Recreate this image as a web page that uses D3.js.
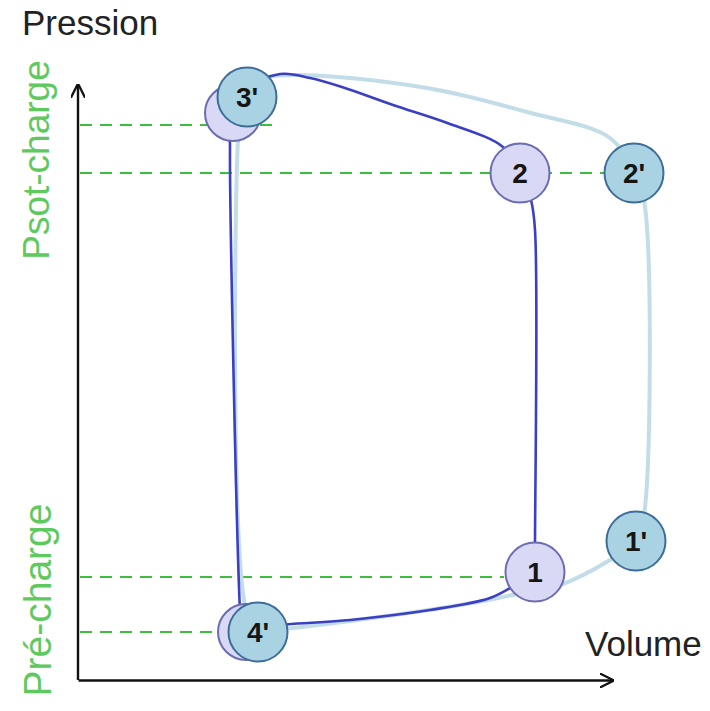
<!DOCTYPE html>
<html lang="en">
<head>
<meta charset="utf-8">
<title>Boucle pression-volume</title>
<script src="https://cdn.jsdelivr.net/npm/d3@7"></script>
<style>
  body { margin: 0; background: #fff; }
  text { font-family: "Liberation Sans", Arial, sans-serif; }
</style>
</head>
<body>
<div id="chart"></div>
<script>
// volume (mL, fictif) / pression (mmHg, fictif)
const axisTitles = { x: "Volume", y: "Pression" };
const sideLabels = [
  { text: "Psot-charge", p: 104, size: 37, base: 49 },
  { text: "Pré-charge", p: 16, size: 39, base: 51 }
];

// horizontal dashed reference lines: pressure level, end volume
const refP = [111, 101.4, 20.6, 9.6];
const refEndV = [48.5, 133, 106.5, 36.5];

// normal loop (dark): 4' -> 1 -> 2 -> 3' -> 4'
const loopNormal = [
  [41, 9.6], [48, 10.8], [68, 12], [88, 14], [103, 16.4], [109.25, 19], [114.25, 21.6],
  [114.25, 27], [114.25, 90], [113.25, 96], [110.5, 101.4],
  [106.25, 106.6], [92, 111.5], [78.75, 115], [66, 118.6], [58, 120.4], [50.5, 121.2],
  [42, 118], [38.2, 110], [38, 106], [40.5, 14], [41, 9.6]
];
// loop after change (light): 4' -> 1 -> 1' -> 2' -> 3' -> 4'
const loopAfter = [
  [45, 9.6], [70, 12], [100, 15.6], [114.25, 18], [120.5, 19], [133, 24], [139.5, 27.8],
  [141.5, 33], [141.5, 96], [139, 101.4],
  [133, 108.4], [112.25, 113.6], [87.25, 118.4], [53.75, 121], [46, 120],
  [41, 114], [40, 108], [42, 14], [45, 9.6]
];

// circles: label, volume, pressure, kind (n = normal, a = after)
const backCircles = [
  { v: 38.75, p: 113.4, kind: "n" },
  { v: 42, p: 9.6, kind: "n" }
];
const nodes = [
  { label: "3'", v: 42.25, p: 116.6, kind: "a" },
  { label: "2", v: 110.5, p: 101.4, kind: "n" },
  { label: "2'", v: 139, p: 101.4, kind: "a" },
  { label: "1", v: 114.25, p: 21.6, kind: "n" },
  { label: "1'", v: 139.5, p: 27.8, kind: "a" },
  { label: "4'", v: 45, p: 9.6, kind: "a" }
];

const w = 710, h = 711;

const x = d3.scaleLinear().domain([0, 133.5]).range([78, 612]);
const y = d3.scaleLinear().domain([0, 119]).range([680, 85]);

const svg = d3.select("#chart").append("svg")
  .attr("width", w).attr("height", h);

const defs = svg.append("defs");
defs.append("marker")
  .attr("id", "arrow")
  .attr("viewBox", "0 0 10 10")
  .attr("refX", 9).attr("refY", 5)
  .attr("markerWidth", 6).attr("markerHeight", 6)
  .attr("markerUnits", "strokeWidth")
  .attr("orient", "auto")
  .append("path")
  .attr("d", "M0,0 L10,5 L0,10")
  .attr("fill", "none")
  .attr("stroke", "#111")
  .attr("stroke-width", 1.6);

// dashed reference lines
svg.selectAll(".ref").data(refP).enter().append("line")
  .attr("class", "ref")
  .attr("x1", x(0.5)).attr("x2", (d, i) => x(refEndV[i]))
  .attr("y1", d => y(d)).attr("y2", d => y(d))
  .attr("stroke", "#3cbf3c")
  .attr("stroke-width", 2)
  .attr("stroke-dasharray", "12 8");

// axes (domain line only, arrow at the end)
const xAxis = svg.append("g")
  .attr("transform", "translate(0," + y(0) + ")")
  .call(d3.axisBottom(x).tickValues([]).tickSizeOuter(0));
const yAxis = svg.append("g")
  .attr("transform", "translate(" + x(0) + ",0)")
  .call(d3.axisLeft(y).tickValues([]).tickSizeOuter(0));
[xAxis, yAxis].forEach(g => g.select(".domain")
  .attr("stroke", "#111")
  .attr("stroke-width", 2.4)
  .attr("marker-end", "url(#arrow)"));
yAxis.select(".domain").attr("d", "M0," + y(0) + "V" + y(119));

const line = d3.line()
  .x(d => x(d[0])).y(d => y(d[1]))
  .curve(d3.curveCatmullRom.alpha(0.5));

svg.append("path").datum(loopAfter)
  .attr("d", line)
  .attr("fill", "none")
  .attr("stroke", "#c2dde8")
  .attr("stroke-width", 4);

svg.append("path").datum(loopNormal)
  .attr("d", line)
  .attr("fill", "none")
  .attr("stroke", "#3a3fc6")
  .attr("stroke-width", 2.6);

const fill = { n: "#d9d8f5", a: "#a9d3e2" };
const stroke = { n: "#6c6cb2", a: "#3f6d9a" };

svg.selectAll(".back").data(backCircles).enter().append("circle")
  .attr("class", "back")
  .attr("cx", d => x(d.v)).attr("cy", d => y(d.p))
  .attr("r", 28)
  .attr("fill", d => fill[d.kind])
  .attr("stroke", d => stroke[d.kind])
  .attr("stroke-width", 2);

const node = svg.selectAll(".node").data(nodes).enter().append("g")
  .attr("class", "node")
  .attr("transform", d => "translate(" + x(d.v) + "," + y(d.p) + ")");
node.append("circle")
  .attr("r", 29.5)
  .attr("fill", d => fill[d.kind])
  .attr("stroke", d => stroke[d.kind])
  .attr("stroke-width", 2);
node.append("text")
  .attr("text-anchor", "middle")
  .attr("dy", "0.36em")
  .attr("font-size", 28)
  .attr("font-weight", "bold")
  .attr("fill", "#151515")
  .text(d => d.label);

// axis titles
svg.append("text")
  .attr("x", 22).attr("y", 35)
  .attr("font-size", 35)
  .attr("fill", "#222")
  .text(axisTitles.y);
svg.append("text")
  .attr("x", 585).attr("y", 656)
  .attr("font-size", 35)
  .attr("fill", "#222")
  .text(axisTitles.x);

// green side labels
svg.selectAll(".side").data(sideLabels).enter().append("text")
  .attr("class", "side")
  .attr("transform", d => "translate(" + d.base + "," + y(d.p) + ") rotate(-90)")
  .attr("text-anchor", "middle")
  .attr("font-size", d => d.size)
  .attr("fill", "#5ec95e")
  .text(d => d.text);
</script>
</body>
</html>
